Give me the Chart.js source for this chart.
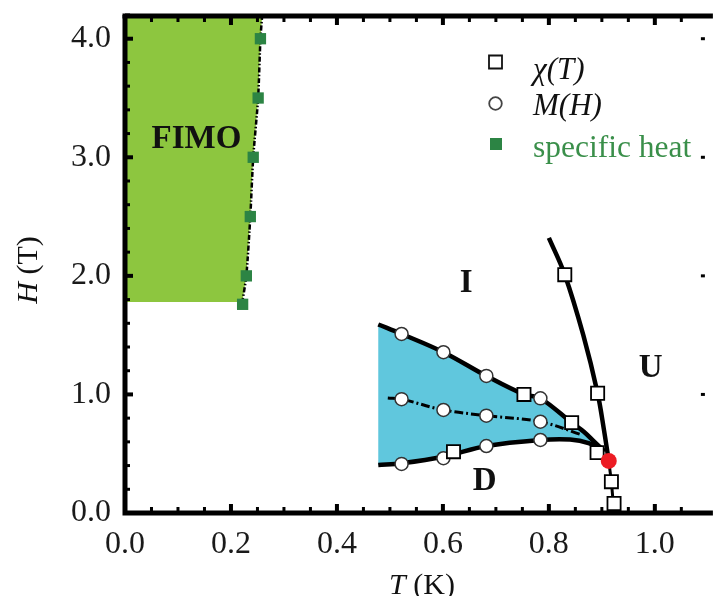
<!DOCTYPE html>
<html>
<head>
<meta charset="utf-8">
<script src="https://cdn.jsdelivr.net/npm/chart.js@4.4.1/dist/chart.umd.min.js"></script>
<style>
  html, body { margin: 0; padding: 0; background: #fff; }
  #wrap { width: 714px; height: 596px; }
</style>
</head>
<body>
<div id="wrap"><canvas id="c" width="714" height="596"></canvas></div>
<script>
// ---------- tick labels ----------
const xTickValues = [0.0, 0.2, 0.4, 0.6, 0.8, 1.0];
const yTickValues = [0.0, 1.0, 2.0, 3.0, 4.0];

// ---------- specific heat (green squares) ----------
const heatT = [0.2556, 0.2513, 0.2420, 0.2365, 0.2290, 0.2220];
const heatH = [4.00, 3.50, 3.00, 2.50, 2.00, 1.76];

// ---------- FIMO boundary (dash-dot line) and region ----------
const fimoLineT = [0.259, 0.2556, 0.2513, 0.2420, 0.2365, 0.2290, 0.2200];
const fimoLineH = [4.20, 4.00, 3.50, 3.00, 2.50, 2.00, 1.74];
const fimoRegionT = [0.0, 0.259, 0.2556, 0.2513, 0.2420, 0.2365, 0.2290, 0.2215, 0.0];
const fimoRegionH = [4.20, 4.20, 4.00, 3.50, 3.00, 2.50, 2.00, 1.78, 1.78];

// ---------- chi(T) squares ----------
const chiT = [0.830, 0.892, 0.753, 0.843, 0.891, 0.620, 0.918, 0.923];
const chiH = [2.01, 1.01, 1.00, 0.762, 0.509, 0.517, 0.264, 0.08];

// ---------- M(H) circles ----------
const mhT = [0.522, 0.601, 0.682, 0.784, 0.522, 0.601, 0.682, 0.784, 0.522, 0.601, 0.682, 0.784];
const mhH = [1.51, 1.356, 1.156, 0.967, 0.96, 0.869, 0.821, 0.77, 0.414, 0.462, 0.565, 0.616];

// ---------- phase boundaries ----------
const chiLineT = [0.800, 0.830, 0.865, 0.892, 0.904, 0.913];
const chiLineH = [2.32, 2.01, 1.50, 1.01, 0.70, 0.44];
const chiLowT = [0.913, 0.918, 0.923];
const chiLowH = [0.44, 0.264, 0.0];

const upperT = [0.478, 0.522, 0.601, 0.682, 0.753, 0.784, 0.843, 0.866, 0.886, 0.905];
const upperH = [1.59, 1.51, 1.356, 1.156, 1.00, 0.967, 0.762, 0.686, 0.60, 0.52];
const lowerT = [0.478, 0.522, 0.601, 0.682, 0.784, 0.840, 0.875, 0.905];
const lowerH = [0.405, 0.42, 0.475, 0.565, 0.616, 0.62, 0.59, 0.52];
const midT = [0.496, 0.522, 0.601, 0.682, 0.784, 0.862];
const midH = [0.97, 0.96, 0.869, 0.821, 0.77, 0.66];

// ---------- critical point ----------
const critT = [0.913];
const critH = [0.439];

// ---------- region labels ----------
const regionNames = ['FIMO', 'I', 'U', 'D'];
const regionT = [0.135, 0.644, 0.992, 0.679];
const regionH = [3.08, 1.86, 1.15, 0.19];

// ---------- legend ----------
const legendNames = ['\u03C7(T)', 'M(H)', 'specific heat'];

const zip = (xs, ys) => xs.map((v, i) => ({ x: v, y: ys[i] }));
const blueT = upperT.concat(lowerT.slice().reverse());
const blueH = upperH.concat(lowerH.slice().reverse());

const GREEN_FILL = 'rgb(141,198,63)';
const BLUE_FILL = 'rgb(96,199,221)';
const HEAT_GREEN = '#2c8444';
const SERIF = '"Liberation Serif", "Times New Roman", serif';

const decor = {
  id: 'decor',
  afterDatasetsDraw(chart) {
    const { ctx, scales: { x, y } } = chart;
    ctx.save();
    ctx.fillStyle = '#111';
    ctx.textAlign = 'center';
    ctx.textBaseline = 'alphabetic';
    ctx.font = 'bold 33px ' + SERIF;
    regionNames.forEach((n, i) => {
      ctx.fillText(n, x.getPixelForValue(regionT[i]), y.getPixelForValue(regionH[i]));
    });
    ctx.restore();
  },
  afterDraw(chart) {
    const { ctx, chartArea: a, scales: { x, y } } = chart;
    ctx.save();
    ctx.strokeStyle = '#000';
    ctx.lineCap = 'butt';
    // frame
    ctx.lineWidth = 5;
    ctx.beginPath();
    ctx.moveTo(a.left, a.top);
    ctx.lineTo(a.left, a.bottom);
    ctx.lineTo(a.right + 10, a.bottom);
    ctx.stroke();
    ctx.beginPath();
    ctx.moveTo(a.left - 2.5, a.top + 1);
    ctx.lineTo(a.right + 10, a.top + 1);
    ctx.stroke();
    // x ticks (bottom and top, inward)
    for (let k = 0; k * 0.05 <= x.max + 1e-9; k++) {
      const v = k * 0.05;
      const major = (k % 4 === 0);
      const px = x.getPixelForValue(v);
      const len = major ? 9 : 6;
      ctx.lineWidth = major ? 4 : 3;
      ctx.beginPath();
      ctx.moveTo(px, a.bottom); ctx.lineTo(px, a.bottom - len);
      ctx.moveTo(px, a.top + 1); ctx.lineTo(px, a.top + 1 + len);
      ctx.stroke();
    }
    // y ticks (left, inward; right edge barely visible)
    for (let k = 0; k * 0.2 <= y.max + 1e-9; k++) {
      const v = k * 0.2;
      const major = (k % 5 === 0);
      const py = y.getPixelForValue(v);
      const len = major ? 8 : 5;
      ctx.lineWidth = major ? 4 : 3;
      ctx.beginPath();
      ctx.moveTo(a.left, py); ctx.lineTo(a.left + len, py);
      ctx.stroke();
      if (major) {
        ctx.lineWidth = 3;
        ctx.beginPath();
        ctx.moveTo(a.right + 2, py); ctx.lineTo(a.right - 2, py);
        ctx.stroke();
      }
    }
    // axis titles
    ctx.fillStyle = '#111';
    ctx.textBaseline = 'alphabetic';
    // x title: T (K)
    ctx.font = 'italic 30px ' + SERIF;
    const tW = ctx.measureText('T').width;
    ctx.font = '30px ' + SERIF;
    const kW = ctx.measureText(' (K)').width;
    let sx = 422 - (tW + kW) / 2;
    ctx.textAlign = 'left';
    ctx.font = 'italic 30px ' + SERIF;
    ctx.fillText('T', sx, 594);
    ctx.font = '30px ' + SERIF;
    ctx.fillText(' (K)', sx + tW, 594);
    // y title: H (T)
    ctx.save();
    ctx.translate(37, 270);
    ctx.rotate(-Math.PI / 2);
    ctx.font = 'italic 30px ' + SERIF;
    const hW = ctx.measureText('H').width;
    ctx.font = '30px ' + SERIF;
    const tkW = ctx.measureText(' (T)').width;
    let sy = -(hW + tkW) / 2;
    ctx.font = 'italic 30px ' + SERIF;
    ctx.fillText('H', sy, 0);
    ctx.font = '30px ' + SERIF;
    ctx.fillText(' (T)', sy + hW, 0);
    ctx.restore();

    // legend
    ctx.lineWidth = 1.8;
    ctx.fillStyle = '#fff';
    ctx.strokeStyle = '#111';
    ctx.beginPath(); ctx.rect(489, 55.5, 13, 13); ctx.fill(); ctx.stroke();
    ctx.beginPath(); ctx.arc(495.5, 103.5, 6.3, 0, Math.PI * 2); ctx.fill();
    ctx.strokeStyle = '#444'; ctx.stroke();
    ctx.fillStyle = HEAT_GREEN;
    ctx.fillRect(490, 138, 12, 12);
    ctx.textAlign = 'left';
    ctx.fillStyle = '#111';
    ctx.font = 'italic 31px ' + SERIF;
    ctx.fillText(legendNames[0], 533, 79);
    ctx.fillText(legendNames[1], 533, 115);
    ctx.fillStyle = '#3a8f4a';
    ctx.font = '31.5px ' + SERIF;
    ctx.fillText(legendNames[2], 533, 157);
    ctx.restore();
  }
};

const lineDs = (data, width, extra) => Object.assign({
  data, showLine: true, borderColor: '#000', borderWidth: width,
  pointRadius: 0, pointHoverRadius: 0, fill: false, tension: 0.35
}, extra || {});

new Chart(document.getElementById('c'), {
  type: 'scatter',
  data: {
    datasets: [
      { data: zip(fimoRegionT, fimoRegionH), showLine: true, fill: 'shape',
        backgroundColor: GREEN_FILL, borderWidth: 0, borderColor: 'rgba(0,0,0,0)',
        pointRadius: 0, tension: 0, order: 20 },
      { data: zip(blueT, blueH), showLine: true, fill: 'shape',
        backgroundColor: BLUE_FILL, borderWidth: 0, borderColor: 'rgba(0,0,0,0)',
        pointRadius: 0, tension: 0.2, order: 19 },
      lineDs(zip(fimoLineT, fimoLineH), 2.5, { borderDash: [5, 2, 1.5, 2], tension: 0.2, order: 10 }),
      lineDs(zip(chiLineT, chiLineH), 4.5, { order: 9 }),
      lineDs(zip(chiLowT, chiLowH), 3, { tension: 0, order: 9 }),
      lineDs(zip(upperT, upperH), 4.5, { order: 9 }),
      lineDs(zip(lowerT, lowerH), 4.5, { order: 9 }),
      lineDs(zip(midT, midH), 3, { borderDash: [9, 3, 2, 3], order: 9 }),
      { data: zip(heatT, heatH), pointStyle: 'rect', pointRadius: 8, backgroundColor: HEAT_GREEN,
        borderWidth: 0, order: 3 },
      { data: zip(mhT, mhH), pointStyle: 'circle', pointRadius: 6.5, backgroundColor: '#fff',
        borderColor: '#333', borderWidth: 1.5, order: 2 },
      { data: zip(chiT, chiH), pointStyle: 'rect', pointRadius: 9.3, backgroundColor: '#fff',
        borderColor: '#000', borderWidth: 1.8, order: 1 },
      { data: zip(critT, critH), pointStyle: 'circle', pointRadius: 8, backgroundColor: '#ec1c24',
        borderWidth: 0, order: 0 }
    ]
  },
  options: {
    responsive: false,
    animation: false,
    devicePixelRatio: 1,
    layout: { padding: { top: 15, right: 0, bottom: 0, left: 0 } },
    plugins: { legend: { display: false }, tooltip: { enabled: false } },
    scales: {
      x: {
        type: 'linear', min: 0, max: 1.0907,
        grid: { display: false, drawTicks: false },
        border: { display: false },
        afterBuildTicks: s => { s.ticks = xTickValues.map(v => ({ value: v })); },
        afterFit: s => { s.height = 83; s.paddingLeft = 0; s.paddingRight = 0; },
        ticks: { padding: 12, color: '#1a1a1a', font: { family: SERIF, size: 32 },
                 maxRotation: 0, callback: v => Number(v).toFixed(1) }
      },
      y: {
        type: 'linear', min: 0, max: 4.2,
        grid: { display: false, drawTicks: false },
        border: { display: false },
        afterBuildTicks: s => { s.ticks = yTickValues.map(v => ({ value: v })); },
        afterFit: s => { s.width = 125; s.paddingTop = 0; s.paddingBottom = 0; },
        ticks: { padding: 14, color: '#1a1a1a', font: { family: SERIF, size: 32 },
                 callback: v => Number(v).toFixed(1) }
      }
    }
  },
  plugins: [decor]
});
</script>
</body>
</html>
